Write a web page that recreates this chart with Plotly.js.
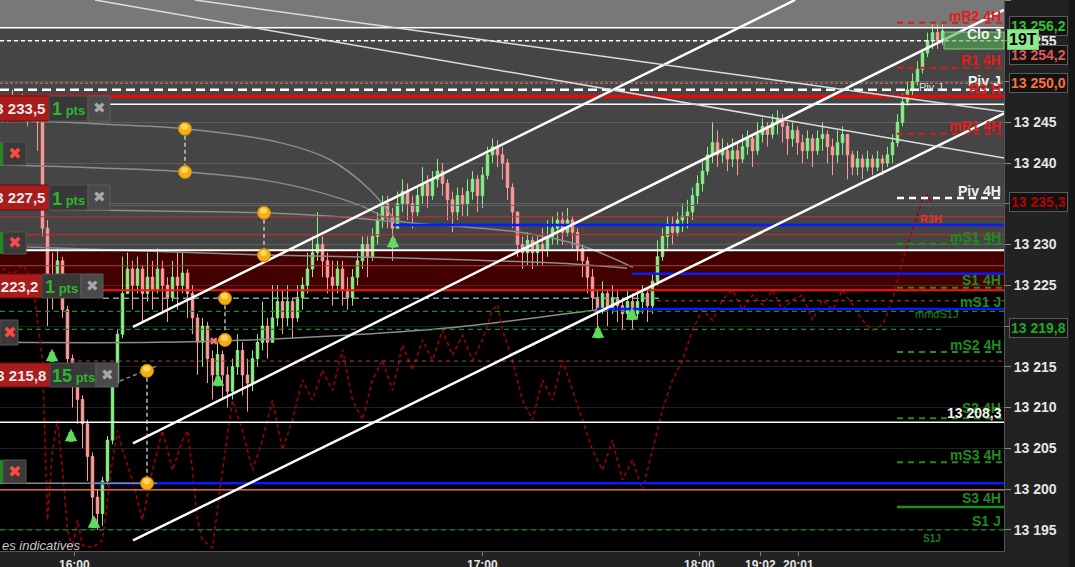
<!DOCTYPE html>
<html><head><meta charset="utf-8">
<script src="https://cdn.plot.ly/plotly-3.0.1.min.js"></script>
<style>html,body{margin:0;padding:0;background:#222;overflow:hidden}#chart{width:1075px;height:567px}</style>
</head><body><div id="chart"></div>
<script>
// ---------- DATA ----------
const firstOpen = 13246;
const candleClose = [
13247,13246,13247.5,13246.5,13247,13246,13246.5,13245,
13232,13226,13225,13228,13222,13216,13213,13211,13208,13204,13199,13197,
13201,13206,13213,13219,13224,13227,
13225,13227,13224,13226,13224.5,13227,13225,13223.5,13226,13225,13226.5,13224,
13221,13218,13220,13216,13214,13216.5,13214,13212,13215,13217,13214,13213,
13216,13218,13220,13218,13221,13223,13221,13223,13221,13223.5,13225,13227,13229,13230,
13228,13226,13225,13227,13224.5,13223.5,
13226,13228,13230,13228.5,13231,13233,13235,13233.5,13232,13235,
13236.5,13235,13234,13236,13237.5,13236,13238,13239,13237.5,13235.5,
13234,13236,13235,13236.5,13238,13236,13238.5,13241,13242,13241,
13240,13237,13234,13230,13229,
13230.5,13229,13230,13229.5,13231,13232,13233,13231.5,13233,13231.5,13229.5,
13228,13226,13223.5,13222,
13224,13222,13223.5,13222.5,13221.5,13223,13221.5,13223,13224,13222.5,
13225.5,13228.5,13231,13232.5,13231.5,13233,13233.5,13234,13236,13237.5,13239,13241,13242.5,
13241,13241.5,13240.5,13241.5,13240.5,13242,13243,13241.5,13243.5,13244.5,13243.5,13245,13245.5,13244.5,13243,
13244,13242.5,13241.5,13243,13241.5,13243,13243.5,13242,13241,13242.5,13243.5,13241,
13239.5,13240.5,13239.5,13240.5,13239.5,13240.5,13240,13241,13242.5,
13245,13247.5,13249,13250,13251.5,13253.5,13255,13256,13255,13256.2];
const candleHigh = [
13248,13248,13249,13248,13248.5,13247.5,13248,13247,
13246,13233,13229,13229.5,13228.5,13222.5,13216.5,13214,13211.5,13208.5,13204.5,13200,
13201.5,13206.5,13213.5,13219.5,13228.5,13229,
13228,13228.5,13227.5,13229,13228,13229.5,13228,13226,13228,13229,13229,13227,
13225,13221.5,13221,13220.5,13217,13218,13217,13215,13216,13219,13218,13216,
13217,13219,13223,13221,13225,13225,13224.5,13225,13223.5,13225,13226,13229,13231,13234,
13231,13229,13228,13228,13228,13226,
13227,13229,13231,13231,13232,13234,13236,13236,13234.5,13236.5,
13238,13237.5,13236,13237,13239.5,13238.5,13239,13240.5,13240,13238,
13236.5,13237,13237,13238,13239,13238.5,13239.5,13242,13243,13242.8,
13242,13240.5,13237.5,13234,13231,
13231.5,13231,13231,13232,13233,13233.5,13234,13234,13234.5,13233.5,13232,
13230,13228.5,13227,13224.5,
13225.5,13224.5,13225,13224.5,13223.5,13224.5,13224,13224.5,13225,13224.5,
13226.5,13230.5,13232,13233.5,13233.5,13234,13235,13235.5,13237,13238.5,13240.5,13242,13245,
13244,13243,13242.5,13243,13242.5,13243.5,13244,13243.5,13245,13245.5,13245,13246,13246.5,13246,13245,
13245,13244.5,13243.5,13244,13243.5,13244,13245,13244,13243,13244,13244.5,13243.5,
13241.5,13241.5,13241,13241.5,13241,13241.5,13241,13242,13243.5,
13246,13248.5,13250,13251,13252.5,13254,13256,13257,13257,13257];
const candleLow = [
13245,13245,13245.5,13245.5,13246,13244.5,13245,13241.5,
13231,13220,13222,13224,13221,13213,13210,13208,13205,13201,13196,13195,
13195.5,13200.5,13205.5,13212.5,13218.5,13224,
13222,13224,13220.5,13223,13222,13224,13221.5,13220.5,13223,13222,13224,13221,
13219,13214,13215,13213,13211,13213,13211,13210,13211,13214,13211.5,13209.5,
13212,13215,13217,13216,13218,13220,13219,13220,13218.5,13220.5,13222,13224,13226,13228,
13226,13224,13222.5,13224,13222.5,13222,
13222.5,13225,13227,13226,13228,13230,13232,13232,13228,13232,
13234,13233,13232,13233.5,13235,13234.5,13235.5,13237,13236,13233,
13231.5,13233,13233.5,13233.5,13235.5,13234,13234.5,13238,13240,13239.5,
13238,13235.5,13232,13228.5,13227,
13227.5,13227,13227.5,13227.5,13228.5,13230,13230,13230,13231,13229.5,13228,
13226,13224,13222,13219,
13221.5,13220,13221.5,13220.5,13219.5,13221,13219.5,13221,13221.5,13220.5,
13221.5,13225,13228,13229.5,13230,13231,13231.5,13232,13233,13235,13236.5,13238.5,13240,
13239.5,13240,13239,13239.5,13238.5,13240,13241,13239.5,13241,13242.5,13242,13243,13243.5,13242.5,13241,
13242,13241,13240,13240.5,13239.5,13241,13241.5,13240,13238.5,13240,13241,13238,
13238.5,13238.5,13238,13239,13238.5,13239,13238.5,13239.5,13240,
13242,13244.5,13247,13248,13249.5,13251,13253,13254,13254,13254.5];

const timeTickPos  = [14.3, 95.9, 139.3, 151.5, 159.2];
const timeTickText = ['16:00','17:00','18:00','19:02','20:01'];
const priceTicks = [13195,13200,13205,13210,13215,13220,13225,13230,13235,13240,13245,13250,13255,13260];
// 13 220 / 13 235 / 13 250 are hidden behind the price flags in the reference
const priceTickText = ['13 195','13 200','13 205','13 210','13 215','','13 225','13 230','','13 240','13 245','','13 255','13 260'];

// dashed dark-red indicator
const indIdx = [0,2,4,6,8,9,10,11,12,13,14,15,16,18,20,22,23,24,26,28,30,32,34,36,37,38,39,40,
42,44,46,48,50,52,54,56,58,60,62,64,66,68,70,72,74,76,78,80,82,84,86,88,90,92,94,96,98,99,
100,102,104,106,108,110,112,114,116,118,120,122,124,126,128,130,132,134,136,138,140,142,144,146,148,150,
152,154,156,158,160,162,164,166,168,170,172,174,176,178,180,182,184,185,186];
const indVal = [13227.1,13226.3,13227.5,13225.6,
13215.8,13196.2,13204.8,13208.5,13202.3,13195.0,13192.8,13196.2,13193.1,
13192.8,13193.7,13203.6,13207.2,13204.8,
13201.1,13196.2,13202.3,13207.2,13202.3,13206.0,13207.2,13202.3,13196.2,13193.7,
13192.8,13202.3,13210.9,13207.2,13202.3,13206.0,13210.9,13204.8,13208.5,13213.4,13210.9,13214.6,13212.1,13217.1,
13210.9,13208.5,13213.4,13215.8,13212.1,13217.7,13214.6,13218.3,13215.8,13219.5,13216.4,13218.9,13215.8,13218.3,13222.0,
13222.6,
13219.5,13215.8,13210.9,13208.5,13213.4,13210.9,13215.8,13212.1,13208.5,13204.8,13202.3,13206.0,13201.1,13203.6,
13199.9,13204.8,13209.7,13213.4,13215.8,13219.5,13222.0,13220.7,13223.2,13224.4,13222.0,13223.8,13222.6,13224.4,
13222.0,13223.2,13223.8,13220.7,13223.2,13222.0,13224.4,13222.6,13220.7,13219.5,13220.1,13223.2,13228.1,13231.8,13235.5,
13236.1,13234.8];

// grey moving-average curves
const curve1Idx = [-0.5,19.5,36.5,55.5,65.5,73.5,78.1];
const curve1Val = [13245.3,13244.8,13244.2,13242.5,13240.4,13236.7,13233.3];
const curve2Idx = [-0.5,19.5,36.5,52.3,63.5,71.5,78.1,89.5,103.5,115.5,126.1];
const curve2Val = [13239.8,13239.4,13238.9,13237.9,13236.4,13234.8,13233.0,13232.3,13231.5,13229.9,13227.2];
const curve3Idx = [-0.5,21.5,52.3,67.5,78.1];
const curve3Val = [13234.4,13234.2,13233.9,13233.4,13232.8];
const curve4Idx = [4.9,52.3,69.5,93.5,111.5,124.9];
const curve4Val = [13229.7,13228.7,13228.5,13228.1,13227.7,13227.1];
const curve5Idx = [-0.5,30.9,49.5,69.5,89.5,118.9];
const curve5Val = [13218.0,13218.0,13218.3,13218.9,13219.8,13222.0];

// horizontal levels
const fullLvlPrice = [13256.6,13255.0,13249.8,13249.0,13248.2,13247.2,13234.8,13233.4,13232.4,13231.2,
13229.3,13227.4,13226.4,13224.4,13223.4,13223.1,13222.1,13221.8,13219.6,13215.7,13208.2,13200.7,13200.7,13199.9,13195.0];
const pivLvlPrice = [13257.2,13251.7,13243.6,13235.7,13230.1,13224.7,13216.8,13208.7,13203.3,13197.8];

// channel / trend lines
const trendIdx0 = [26.1,26.1,26.1,18.5,38.5];
const trendVal0 = [13219.9,13205.6,13193.7,13260.0,13260.0];
const trendIdx1 = [158.5,200.3,200.3,200.3,200.3];
const trendVal1 = [13260.0,13258.8,13246.1,13240.6,13246.3];

// orange alert markers (pairs)
const markIdx = [36.5,36.5,52.3,52.3,44.5,44.5,28.9,28.9];
const markVal = [13244.2,13238.9,13233.9,13228.7,13223.4,13218.3,13214.5,13200.7];

// green buy arrows (tip positions)
const arrowIdx = [9.9,13.7,18.3,78.1,119.1,125.9,43.1];
const arrowVal = [13217.2,13207.4,13196.8,13231.2,13220.1,13222.3,13214.2];

// order tickets
const orderPriceText = ['13 233,5','13 227,5','13 223,2','13 215,8'];
const orderPtsText = ['1','1','1','15'];

// right axis price flags
const flagText = ['13 256,2','13 254,2','13 250,0','13 235,3','13 219,8'];

// ---------- HELPERS ----------
const W = 1004, H = 551;
const P = x => x / W, Q = y => 1 - y / H;
const FONT = 'Liberation Sans, Arial, sans-serif';
const shapes = [], ann = [];
function pxRect(x0,y0,x1,y1,fill,lc,lw){
  shapes.push({type:'rect',xref:'paper',yref:'paper',x0:P(x0),x1:P(x1),y0:Q(y1),y1:Q(y0),
    fillcolor:fill,line:{color:lc||fill,width:lw===undefined?0:lw},layer:'above'});
}
function txt(text,x,y,anchor,color,size,extra){
  ann.push(Object.assign({xref:'paper',yref:'paper',x:P(x),y:Q(y),xanchor:anchor,yanchor:'middle',
    text:text,showarrow:false,borderpad:0,
    font:{family:FONT,size:size,color:color,weight:'bold'}},extra||{}));
}

// background bands
const bandLo = [13256.6,13229.3,13224.4], bandHi = [13261,13256.6,13229.3];
const bandCol = ['#787878','#454545','#430000'];
bandLo.forEach((v,i)=>shapes.push({type:'rect',xref:'paper',yref:'y',x0:0,x1:1,y0:v,y1:bandHi[i],
  fillcolor:bandCol[i],line:{width:0},layer:'below'}));

// full width levels: [color,width,dash,x0px,x1px]
const fullSty = [
 ['#ffffff',1.5,'solid',0,W],['#ffffff',1.3,'4px,3px',0,W],['#e0885e',1,'3px,2px',0,W],
 ['#ffffff',2.5,'9px,5px',0,W],['#ff0000',3,'solid',0,W],['#ffffff',1.5,'solid',0,W],
 ['#666666',1,'solid',0,W],['#c83030',1,'solid',0,W],['#0a1aff',2.5,'solid',393,W],
 ['#d02828',1,'solid',0,W],['#ffffff',2,'solid',0,W],['#a84040',1,'solid',0,W],
 ['#0a1aff',2.5,'solid',632,W],['#ff1010',2,'solid',0,W],['#9a9a9a',1.5,'6px,4px',103,660],
 ['#b04848',1,'4px,4px',657,W],['#0a1aff',2.5,'solid',597,W],['#1a8a1a',1.2,'5px,4px',0,W],
 ['#1a8a1a',1.2,'5px,4px',0,945],['#b04848',1,'4px,4px',70,W],['#ffffff',1.5,'solid',0,W],
 ['#0a1aff',2.5,'solid',94,W],['#8a8a8a',1.5,'solid',0,157],['#ff7f50',1.2,'solid',0,W],
 ['#1a8a1a',1.2,'5px,4px',0,W]];
fullLvlPrice.forEach((v,i)=>{const s=fullSty[i];
  shapes.push({type:'line',xref:'paper',yref:'y',x0:P(s[3]),x1:P(s[4]),y0:v,y1:v,
    line:{color:s[0],width:s[1],dash:s[2]},layer:'above'});});

const pivSty = [['#e01818',2,'6px,5px'],['#e01818',2,'6px,5px'],['#e01818',2,'6px,5px'],['#ffffff',2.5,'7px,5px'],
 ['#1a8f1a',2,'6px,5px'],['#1a8f1a',2,'6px,5px'],['#1a8f1a',2,'6px,5px'],['#1a8f1a',2,'6px,5px'],['#1a8f1a',2,'6px,5px'],['#1a8f1a',2.5,'solid']];
pivLvlPrice.forEach((v,i)=>{const s=pivSty[i];
  shapes.push({type:'line',xref:'paper',yref:'y',x0:P(897),x1:P(W),y0:v,y1:v,
    line:{color:s[0],width:s[1],dash:s[2]},layer:'above'});});

// trend lines
const trendSty = [['#ffffff',2.5],['#ffffff',2.5],['#ffffff',2.5],['#dcdcdc',1.5],['#dcdcdc',1.5]];
trendIdx0.forEach((x,i)=>shapes.push({type:'line',xref:'x',yref:'y',x0:x,y0:trendVal0[i],x1:trendIdx1[i],y1:trendVal1[i],
  line:{color:trendSty[i][0],width:trendSty[i][1]},layer:'above'}));

// small grey dashed connector from ticket to marker
shapes.push({type:'line',xref:'paper',yref:'paper',x0:P(120),y0:Q(381),x1:P(157),y1:Q(366),line:{color:'#888',width:1.5,dash:'4px,3px'},layer:'above'});

// green box next to price
pxRect(944,32,1004,49,'rgba(85,175,85,0.6)','#7fd07f',1);

// marker connectors and circles
for(let i=0;i<markIdx.length;i+=2){
  shapes.push({type:'line',xref:'x',yref:'y',x0:markIdx[i],x1:markIdx[i+1],y0:markVal[i],y1:markVal[i+1],
    line:{color:'#e8e8e8',width:1.2,dash:'4px,3px'},layer:'above'});
}
markIdx.forEach((x,i)=>{
  shapes.push({type:'circle',xref:'x',yref:'y',xsizemode:'pixel',ysizemode:'pixel',xanchor:x,yanchor:markVal[i],
    x0:-6.5,x1:6.5,y0:-6.5,y1:6.5,fillcolor:'#f4ae16',line:{color:'#c98a08',width:1},layer:'above'});
  shapes.push({type:'circle',xref:'x',yref:'y',xsizemode:'pixel',ysizemode:'pixel',xanchor:x,yanchor:markVal[i],
    x0:-4,x1:3,y0:-1,y1:5,fillcolor:'#ffd65c',line:{width:0},layer:'above'});
});

// order tickets
const ordGeo = [[96,121,49,88,110],[185,210,49,88,110],[274,298,42,81,103],[363,387,50,96,118]];
ordGeo.forEach((g,i)=>{
  pxRect(-2,g[0],g[2],g[1],'#a81c1c','#6a0c0c',1);
  pxRect(g[2],g[0],g[3],g[1],'#383838','#505050',1);
  pxRect(g[3],g[0],g[4],g[1],'#4a4a4a','#5c5c5c',1);
  const yc=(g[0]+g[1])/2;
  txt(orderPriceText[i],g[2]-3,yc,'right','#e8e8e8',15);
  txt('<span style="font-size:18px">'+orderPtsText[i]+'</span> pts',(g[2]+g[3])/2,yc+1,'center','#2fb52f',13);
  ann.push({xref:'paper',yref:'paper',x:P((g[3]+g[4])/2),y:Q(yc),xanchor:'center',yanchor:'middle',showarrow:false,
    text:'✖',font:{family:'DejaVu Sans',size:15,color:'#a8a8a8'}});
});
const canGeo = [[142,165,true,3,26],[232,254,true,3,26],[320,345,false,0,18],[460,483,true,3,26]];
canGeo.forEach(g=>{
  if(g[2]) pxRect(-2,g[0],g[3],g[1],'#1c8c1c','#1c8c1c',0);
  pxRect(g[3],g[0],g[4],g[1],'#3a3a3a','#555',1);
  ann.push({xref:'paper',yref:'paper',x:P((g[3]+g[4])/2),y:Q((g[0]+g[1])/2),xanchor:'center',yanchor:'middle',showarrow:false,
    text:'✖',font:{family:'DejaVu Sans',size:16,color:'#ff4a4a'}});
});

// level labels (right aligned inside plot)
const RED='#e41c1c', GRN='#1c8e1c', WHT='#f2f2f2';
txt('mR2 4H',1002,16,'right',RED,14);
txt('Clo J',1002,34,'right',WHT,14);
txt('R1 4H',1002,60,'right',RED,14);
txt('Piv J',1002,81,'right',WHT,14);
txt('R3 H',1002,89,'right',RED,14);
txt('mR1 4H',1002,126,'right',RED,14);
txt('Piv 4H',1002,191,'right',WHT,14);
txt('mS1 4H',1002,237,'right',GRN,14);
txt('S1 4H',1002,280,'right',GRN,14);
txt('mS1 J',1002,302,'right',GRN,14);
txt('mS2 4H',1002,345,'right',GRN,14);
txt('S2 4H',1002,408,'right',GRN,14);
txt('13 208,3',1003,413,'right',WHT,14);
txt('mS3 4H',1002,455,'right',GRN,14);
txt('S3 4H',1002,498,'right',GRN,14);
txt('S1 J',1002,521,'right',GRN,14);
// small tags
txt('Piv J',918,87,'left','#d8d8d8',11,{font:{family:FONT,size:11,color:'#d8d8d8'}});
txt('R3H',943,219,'right','#e83030',11);
txt('mmdS1J',914,314,'left','#1f8a1f',11,{font:{family:FONT,size:11,color:'#1f8a1f'}});
txt('S1J',932,538,'center','#1a7a1a',10);
txt('✖',213,341,'center','#ff7070',11,{font:{family:'DejaVu Sans',size:11,color:'#ff6a6a'}});
// bottom-left note
ann.push({xref:'paper',yref:'paper',x:P(0),y:Q(545),xanchor:'left',yanchor:'middle',showarrow:false,text:'es indicatives',
  font:{family:FONT,size:13,color:'#c8c8c8',style:'italic'}});

// time labels (cut by the bottom edge, as in the reference)
timeTickPos.forEach((x,i)=>ann.push({xref:'x',yref:'paper',x:x,y:Q(565),xanchor:'center',yanchor:'middle',
  showarrow:false,text:timeTickText[i],borderpad:0,font:{family:FONT,size:12,color:'#e6e6e6',weight:'bold'}}));

// right axis flags
pxRect(1069,-20,1080,580,'#151515','#151515',0);
const flagY = [26,55,83,202,328];
const flagCol = ['#32c032','#e05a5a','#ff7040','#b40000','#22a822'];
flagText.forEach((t,i)=>{
  ann.push({xref:'paper',yref:'paper',x:P(1009),y:Q(flagY[i]),xanchor:'left',yanchor:'middle',showarrow:false,
    text:t,bgcolor:'#121212',bordercolor:'#5a5a5a',borderwidth:1,borderpad:1,
    font:{family:FONT,size:14,color:flagCol[i],weight:'bold'}});
});
ann.push({xref:'paper',yref:'paper',x:P(1007),y:Q(39),xanchor:'left',yanchor:'middle',showarrow:false,
  text:'19T',bgcolor:'#8ee88e',bordercolor:'#6fc86f',borderwidth:1,borderpad:1,
  font:{family:FONT,size:16,color:'#000',weight:'bold'}});

// green arrows
arrowIdx.forEach((x,i)=>ann.push({xref:'x',yref:'y',x:x,y:arrowVal[i],showarrow:true,arrowhead:2,arrowsize:0.5,
  arrowwidth:5,arrowcolor:'#5fdc5f',ax:0,ay:15,text:' ',font:{size:1},standoff:0,startstandoff:0}));

// ---------- TRACES ----------
const idx = candleClose.map((_,i)=>i);
const candleOpen = [firstOpen].concat(candleClose.slice(0,-1));
const curveStyle = {color:'#8c8c8c',width:1.5,shape:'spline'};
const traces = [
  {type:'scatter',mode:'lines',x:curve1Idx,y:curve1Val,line:curveStyle,hoverinfo:'skip'},
  {type:'scatter',mode:'lines',x:curve2Idx,y:curve2Val,line:curveStyle,hoverinfo:'skip'},
  {type:'scatter',mode:'lines',x:curve3Idx,y:curve3Val,line:curveStyle,hoverinfo:'skip'},
  {type:'scatter',mode:'lines',x:curve4Idx,y:curve4Val,line:curveStyle,hoverinfo:'skip'},
  {type:'scatter',mode:'lines',x:curve5Idx,y:curve5Val,line:curveStyle,hoverinfo:'skip'},
  {type:'scatter',mode:'lines',x:indIdx,y:indVal,line:{color:'#a00000',width:1.5,dash:'4px,3px'},hoverinfo:'skip'},
  {type:'candlestick',x:idx,open:candleOpen,high:candleHigh,low:candleLow,close:candleClose,whiskerwidth:0,
    increasing:{line:{color:'#86f086',width:1},fillcolor:'#86f086'},
    decreasing:{line:{color:'#ff9a9a',width:1},fillcolor:'#ff9a9a'},hoverinfo:'skip'}
];

const layout = {
  width:1075,height:567,margin:{l:0,r:71,t:0,b:16,pad:0},
  paper_bgcolor:'#222',plot_bgcolor:'#000',showlegend:false,
  xaxis:{range:[-0.5,200.3],tickvals:timeTickPos,showticklabels:false,ticks:'outside',ticklen:4,tickcolor:'#777',
    showgrid:false,zeroline:false,showline:true,linecolor:'#555',linewidth:1,rangeslider:{visible:false},fixedrange:true},
  yaxis:{range:[13192.4,13260],side:'right',tickvals:priceTicks,ticktext:priceTickText,ticks:'outside',ticklen:6,
    tickcolor:'#888',showgrid:true,gridcolor:'rgba(255,255,255,0.13)',gridwidth:1,zeroline:false,showline:true,
    linecolor:'#555',linewidth:1,fixedrange:true,
    tickfont:{family:FONT,size:14,color:'#e6e6e6',weight:'bold'}},
  shapes:shapes,annotations:ann
};
Plotly.newPlot('chart',traces,layout,{staticPlot:true,displayModeBar:false});
</script></body></html>
